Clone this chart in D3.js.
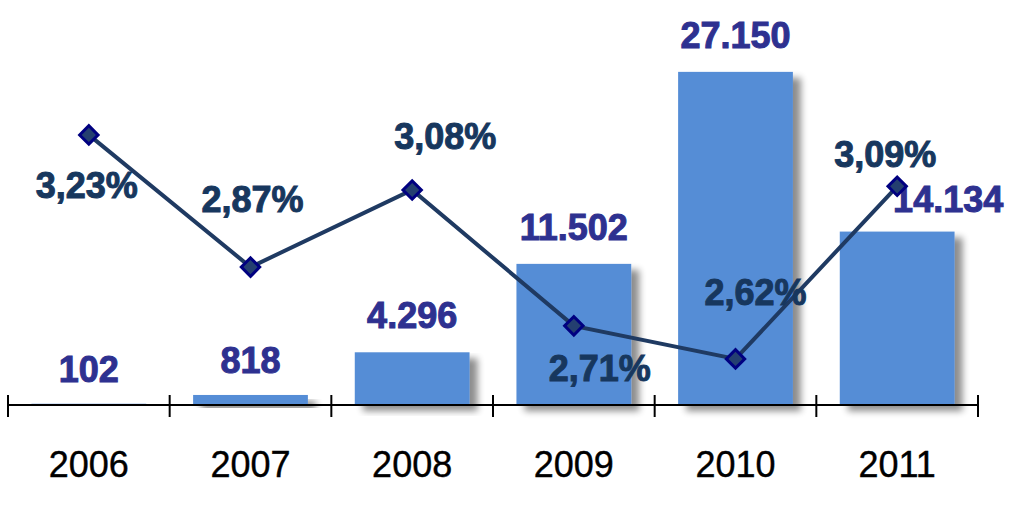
<!DOCTYPE html>
<html>
<head>
<meta charset="utf-8">
<script src="https://cdn.jsdelivr.net/npm/d3@7"></script>
<style>
  body { margin: 0; background: #fff; }
  .chart text { font-family: "Liberation Sans", Arial, sans-serif; }
</style>
</head>
<body>
<div class="chart"></div>
<script>
// chart data

const years = ["2006", "2007", "2008", "2009", "2010", "2011"];
const amounts = [102, 818, 4296, 11502, 27150, 14134];
const amountLabels = ["102", "818", "4.296", "11.502", "27.150", "14.134"];
const rates = [3.23, 2.87, 3.08, 2.71, 2.62, 3.09];
const rateLabels = ["3,23%", "2,87%", "3,08%", "2,71%", "2,62%", "3,09%"];

// label placement (offsets from the point)
const rateLabelOffset = [[-2, 63], [2, -55], [33, -41], [26, 55], [20, -54], [-12, -19]];
const amountLabelOffset = [[0, -22], [0, -22], [0, -24], [0, -24], [0, -24], [51, -20]];

// svg container size

const width = 1024,
      height = 513;

const axisY = 405;

let svg = d3.select(".chart")
            .append("svg")
            .attr("width", width)
            .attr("height", height);

// shadow to the right of the bars
const defs = svg.append("defs");
const shadow = defs.append("filter")
                   .attr("id", "shadow")
                   .attr("x", "-10%").attr("y", "-10%")
                   .attr("width", "140%").attr("height", "130%");
shadow.append("feGaussianBlur").attr("in", "SourceAlpha").attr("stdDeviation", 3.5).attr("result", "blur");
shadow.append("feOffset").attr("in", "blur").attr("dx", 8).attr("dy", 6).attr("result", "off");
shadow.append("feComponentTransfer").attr("in", "off").attr("result", "soft")
      .append("feFuncA").attr("type", "linear").attr("slope", 0.45);
const merge = shadow.append("feMerge");
merge.append("feMergeNode").attr("in", "soft");
merge.append("feMergeNode").attr("in", "SourceGraphic");

// scales

const cell = d3.scaleBand()
               .domain(years)
               .range([8, 978]);

const x = d3.scaleBand()
            .domain(years)
            .range([8, 978])
            .paddingInner(0.29)
            .paddingOuter(0.145);

const y = d3.scaleLinear()
            .domain([0, 32600])
            .range([axisY, 5]);

const yRate = d3.scaleLinear()
                .domain([2.5, 3.6])
                .range([403, -1]);

// bars

svg.append("g")
   .selectAll("rect")
   .data(years)
   .enter()
     .append("rect")
     .attr("x", d => x(d))
     .attr("width", x.bandwidth())
     .attr("y", (d, i) => y(amounts[i]))
     .attr("height", (d, i) => axisY - y(amounts[i]))
     .attr("fill", "#558dd6")
     .attr("filter", "url(#shadow)");

// axis line and ticks

const axis = svg.append("g");
axis.append("line")
    .attr("x1", cell.range()[0]).attr("x2", cell.range()[1])
    .attr("y1", axisY).attr("y2", axisY)
    .attr("stroke", "#000").attr("stroke-width", 2);

const tickXs = years.map(d => cell(d)).concat([cell.range()[1]]);
axis.selectAll(".tick")
    .data(tickXs)
    .enter()
      .append("line")
      .attr("x1", d => d).attr("x2", d => d)
      .attr("y1", axisY - 10).attr("y2", axisY + 12)
      .attr("stroke", "#000").attr("stroke-width", 2);

// year labels
axis.selectAll(".year")
    .data(years)
    .enter()
      .append("text")
      .attr("x", d => cell(d) + cell.bandwidth() / 2)
      .attr("y", 477)
      .attr("text-anchor", "middle")
      .attr("font-size", 36)
      .attr("fill", "#000")
      .attr("stroke", "#000")
      .attr("stroke-width", 0.4)
      .text(d => d);

// amount labels
svg.append("g")
   .selectAll("text")
   .data(years)
   .enter()
     .append("text")
     .attr("x", (d, i) => x(d) + x.bandwidth() / 2 + amountLabelOffset[i][0])
     .attr("y", (d, i) => y(amounts[i]) + amountLabelOffset[i][1])
     .attr("text-anchor", "middle")
     .attr("font-size", 36)
     .attr("font-weight", "bold")
     .attr("fill", "#2e3190")
     .attr("stroke", "#2e3190")
     .attr("stroke-width", 1)
     .text((d, i) => amountLabels[i]);

// rate line

const line = d3.line()
               .x(d => cell(d) + cell.bandwidth() / 2)
               .y((d, i) => yRate(rates[i]));

svg.append("path")
   .datum(years)
   .attr("d", line)
   .attr("fill", "none")
   .attr("stroke", "#1f3a62")
   .attr("stroke-width", 4);

svg.append("g")
   .selectAll("rect")
   .data(years)
   .enter()
     .append("rect")
     .attr("x", -6.5).attr("y", -6.5)
     .attr("width", 13).attr("height", 13)
     .attr("transform", (d, i) => `translate(${cell(d) + cell.bandwidth() / 2},${yRate(rates[i])}) rotate(45)`)
     .attr("fill", "#243f70")
     .attr("stroke", "#000080")
     .attr("stroke-width", 3);

// rate labels
svg.append("g")
   .selectAll("text")
   .data(years)
   .enter()
     .append("text")
     .attr("x", (d, i) => cell(d) + cell.bandwidth() / 2 + rateLabelOffset[i][0])
     .attr("y", (d, i) => yRate(rates[i]) + rateLabelOffset[i][1])
     .attr("text-anchor", "middle")
     .attr("font-size", 36)
     .attr("font-weight", "bold")
     .attr("fill", "#17375e")
     .attr("stroke", "#17375e")
     .attr("stroke-width", 1)
     .text((d, i) => rateLabels[i]);
</script>
</body>
</html>
